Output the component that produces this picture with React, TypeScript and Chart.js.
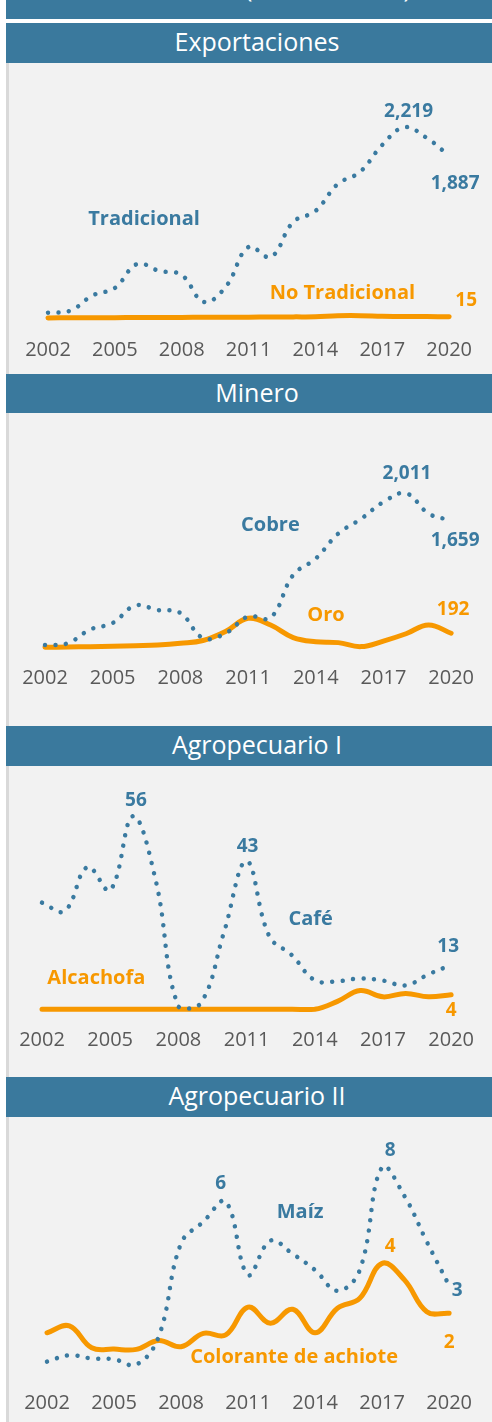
import React, { useEffect, useRef } from "react";
import { Chart, registerables } from "chart.js";

Chart.register(...registerables);

// ---------- DATA ----------
const years = [
  "2002", "2003", "2004", "2005", "2006", "2007", "2008", "2009", "2010", "2011",
  "2012", "2013", "2014", "2015", "2016", "2017", "2018", "2019", "2020",
];
const tickYears = ["2002", "2005", "2008", "2011", "2014", "2017", "2020"];

// Exportaciones (US$ millones)
const tradicional = [62, 85, 262, 349, 628, 547, 500, 186, 372, 826, 709, 1116, 1244, 1558, 1698, 2012, 2219, 2093, 1887];
const noTradicional = [1, 2, 3, 4, 5, 6, 7, 8, 9, 10, 11, 13, 14, 26, 27, 20, 17, 16, 15];

// Minero
const cobre = [39, 61, 240, 325, 552, 494, 455, 130, 190, 410, 394, 949, 1163, 1488, 1677, 1898, 2011, 1748, 1659];
const oro = [9, 13, 17, 22, 30, 39, 61, 97, 214, 386, 299, 136, 82, 70, 18, 90, 185, 300, 192];

// Agropecuario I
const cafe = [31, 28.6, 41.3, 34.6, 56, 37.5, 1.0, 2.1, 22.3, 43, 21.3, 15.8, 8.6, 8.3, 9.1, 8.5, 7.1, 10.3, 13];
const alcachofa = [0.2, 0.2, 0.2, 0.2, 0.2, 0.2, 0.2, 0.2, 0.2, 0.2, 0.2, 0.2, 0.2, 2.5, 5.6, 3.8, 4.8, 3.8, 4.4];

// Agropecuario II
const maiz = [0.35, 0.59, 0.47, 0.44, 0.24, 1.29, 4.78, 5.59, 6.34, 3.6, 4.88, 4.38, 3.78, 3.0, 3.78, 7.63, 6.55, 4.84, 3.2];
const colorante = [1.43, 1.69, 0.87, 0.82, 0.81, 1.14, 0.91, 1.41, 1.35, 2.39, 1.79, 2.31, 1.43, 2.35, 2.72, 4.03, 3.41, 2.22, 2.16];

// ---------- STYLE ----------
const BLUE = "#3a7aa0";
const ORANGE = "#f79800";
const HEADER = "#3a799d";
const BG = "#f2f2f2";
const FONT = "'Open Sans', 'Noto Sans', sans-serif";

type Series = { data: number[]; color: string; dotted: boolean };
type NameLabel = { text: string; x: number; y: number; color: string };
type ValueLabel = { ds: number; index: number; dx: number; dy: number };
type PanelCfg = {
  title: string;
  headerTop: number;
  headerHeight: number;
  canvasTop: number;
  canvasHeight: number;
  padLeft: number;
  padRight: number;
  padTop: number;
  tickPad: number;
  yMax: number;
  series: Series[];
  names: NameLabel[];
  values: ValueLabel[];
};

const panels: PanelCfg[] = [
  {
    title: "Exportaciones",
    headerTop: 23,
    headerHeight: 40,
    canvasTop: 63,
    canvasHeight: 319,
    padLeft: 48,
    padRight: 33,
    padTop: 20,
    tickPad: 20,
    yMax: 2733,
    series: [
      { data: tradicional, color: BLUE, dotted: true },
      { data: noTradicional, color: ORANGE, dotted: false },
    ],
    names: [
      { text: "Tradicional", x: 4.31, y: 1151, color: BLUE },
      { text: "No Tradicional", x: 13.21, y: 293, color: ORANGE },
    ],
    values: [
      { ds: 0, index: 16, dx: 4, dy: -16 },
      { ds: 0, index: 18, dx: 6, dy: 28 },
      { ds: 1, index: 18, dx: 17, dy: -16 },
    ],
  },
  {
    title: "Minero",
    headerTop: 374,
    headerHeight: 39,
    canvasTop: 413,
    canvasHeight: 295,
    padLeft: 45,
    padRight: 37,
    padTop: 20,
    tickPad: 18,
    yMax: 2795,
    series: [
      { data: cobre, color: BLUE, dotted: true },
      { data: oro, color: ORANGE, dotted: false },
    ],
    names: [
      { text: "Cobre", x: 9.99, y: 1589, color: BLUE },
      { text: "Oro", x: 12.45, y: 429, color: ORANGE },
    ],
    values: [
      { ds: 0, index: 16, dx: 1, dy: -20 },
      { ds: 0, index: 18, dx: 4, dy: 20 },
      { ds: 1, index: 18, dx: 2, dy: -24 },
    ],
  },
  {
    title: "Agropecuario I",
    headerTop: 726,
    headerHeight: 40,
    canvasTop: 766,
    canvasHeight: 304,
    padLeft: 42,
    padRight: 25,
    padTop: 20,
    tickPad: 18,
    yMax: 64.7,
    series: [
      { data: cafe, color: BLUE, dotted: true },
      { data: alcachofa, color: ORANGE, dotted: false },
    ],
    names: [
      { text: "Café", x: 11.82, y: 26.3, color: BLUE },
      { text: "Alcachofa", x: 2.39, y: 9.19, color: ORANGE },
    ],
    values: [
      { ds: 0, index: 4, dx: 3, dy: -16 },
      { ds: 0, index: 9, dx: 1, dy: -15 },
      { ds: 0, index: 18, dx: -3, dy: -18 },
      { ds: 1, index: 18, dx: 0, dy: 16 },
    ],
  },
  {
    title: "Agropecuario II",
    headerTop: 1077,
    headerHeight: 40,
    canvasTop: 1117,
    canvasHeight: 318,
    padLeft: 47,
    padRight: 39,
    padTop: 20,
    tickPad: 20,
    yMax: 8.76,
    series: [
      { data: maiz, color: BLUE, dotted: true },
      { data: colorante, color: ORANGE, dotted: false },
    ],
    names: [
      { text: "Maíz", x: 11.33, y: 5.93, color: BLUE },
      { text: "Colorante de achiote", x: 11.06, y: 0.52, color: ORANGE },
    ],
    values: [
      { ds: 0, index: 8, dx: -5, dy: -18 },
      { ds: 0, index: 15, dx: 8, dy: -17 },
      { ds: 0, index: 18, dx: 8, dy: 5 },
      { ds: 1, index: 15, dx: 8, dy: -17 },
      { ds: 1, index: 18, dx: 0, dy: 29 },
    ],
  },
];

const fmt = (v: number) =>
  Math.round(v).toLocaleString("en-US", { maximumFractionDigits: 0 });

function Panel({ cfg }: { cfg: PanelCfg }) {
  const ref = useRef<HTMLCanvasElement>(null);
  useEffect(() => {
    const canvas = ref.current;
    if (!canvas) return;
    const labelPlugin = {
      id: "panelLabels",
      afterDatasetsDraw(chart: any) {
        const ctx = chart.ctx as CanvasRenderingContext2D;
        const xs = chart.scales.x;
        const ys = chart.scales.y;
        ctx.save();
        ctx.textAlign = "center";
        ctx.textBaseline = "middle";
        ctx.font = `bold 20px ${FONT}`;
        for (const n of cfg.names) {
          ctx.fillStyle = n.color;
          ctx.fillText(n.text, xs.getPixelForValue(n.x), ys.getPixelForValue(n.y));
        }
        ctx.font = `bold 19px ${FONT}`;
        for (const v of cfg.values) {
          const ds = chart.data.datasets[v.ds];
          const pt = chart.getDatasetMeta(v.ds).data[v.index];
          ctx.fillStyle = ds.borderColor;
          ctx.fillText(fmt(ds.data[v.index]), pt.x + v.dx, pt.y + v.dy);
        }
        ctx.restore();
      },
    };
    const chart = new Chart(canvas, {
      type: "line",
      data: {
        labels: years,
        datasets: cfg.series.map((s) => ({
          data: s.data,
          borderColor: s.color,
          borderWidth: s.dotted ? 4.5 : 5,
          borderDash: s.dotted ? [0.001, 10.5] : [],
          borderCapStyle: "round",
          borderJoinStyle: "round",
          pointRadius: 0,
          pointHoverRadius: 0,
          tension: 0.4,
          fill: false,
          clip: false,
        })) as any,
      },
      options: {
        animation: false,
        responsive: false,
        maintainAspectRatio: false,
        events: [],
        layout: {
          padding: { left: cfg.padLeft, right: cfg.padRight, top: cfg.padTop, bottom: 0 },
        },
        plugins: { legend: { display: false }, tooltip: { enabled: false } },
        scales: {
          x: {
            grid: { display: false, drawTicks: false },
            border: { display: false },
            ticks: {
              autoSkip: false,
              maxRotation: 0,
              minRotation: 0,
              padding: cfg.tickPad,
              color: "#595959",
              font: { family: FONT, size: 20 },
              callback: (_v: any, i: number) =>
                tickYears.includes(years[i]) ? years[i] : "",
            },
          },
          y: { display: false, min: 0, max: cfg.yMax },
        },
      },
      plugins: [labelPlugin],
    });
    return () => chart.destroy();
  }, [cfg]);
  return (
    <canvas
      ref={ref}
      width={492}
      height={cfg.canvasHeight}
      style={{
        position: "absolute",
        left: 0,
        top: cfg.canvasTop,
        width: 492,
        height: cfg.canvasHeight,
      }}
    />
  );
}

export default function App() {
  return (
    <div
      style={{
        position: "absolute",
        left: 0,
        top: 0,
        width: 492,
        height: 1422,
        background: "#ffffff",
        overflow: "hidden",
        fontFamily: FONT,
      }}
    >
      <div
        style={{
          position: "absolute",
          left: 6,
          top: 0,
          width: 486,
          height: 19,
          background: HEADER,
          overflow: "hidden",
        }}
      >
        <span
          style={{
            position: "absolute",
            left: 239,
            top: -30,
            fontSize: 25,
            lineHeight: "34px",
            color: "#ffffff",
            whiteSpace: "nowrap",
          }}
        >
          (US$ millones)
        </span>
      </div>
      <div
        style={{
          position: "absolute",
          left: 6,
          top: 23,
          width: 486,
          height: 1399,
          background: BG,
          borderLeft: "3px solid #d9d9d9",
          boxSizing: "border-box",
        }}
      />
      {panels.map((p) => (
        <React.Fragment key={p.title}>
          <div
            style={{
              position: "absolute",
              left: 6,
              top: p.headerTop,
              width: 502,
              height: p.headerHeight,
              background: HEADER,
              color: "#ffffff",
              fontSize: 25,
              display: "flex",
              alignItems: "center",
              justifyContent: "center",
              boxSizing: "border-box",
              paddingBottom: 4,
              whiteSpace: "nowrap",
            }}
          >
            {p.title}
          </div>
          <Panel cfg={p} />
        </React.Fragment>
      ))}
    </div>
  );
}
